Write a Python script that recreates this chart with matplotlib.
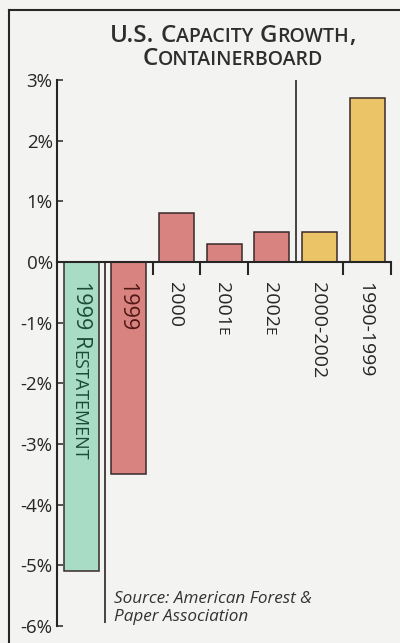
import matplotlib
matplotlib.use("Agg")
import matplotlib.pyplot as plt
from matplotlib.lines import Line2D
from matplotlib.transforms import IdentityTransform

# ---- data -------------------------------------------------------------
categories = ["1999 Restatement", "1999", "2000", "2001E", "2002E",
              "2000-2002", "1990-1999"]
growth = [-5.1, -3.5, 0.8, 0.3, 0.5, 0.5, 2.7]          # percent
bar_colors = ["#a9dcc4", "#d8837f", "#d8837f", "#d8837f", "#d8837f",
              "#eac466", "#eac466"]
inside_label = [True, True, False, False, False, False, False]
inside_label_colors = ["#1d4a38", "#4f1717"]
y_ticks = [-6, -5, -4, -3, -2, -1, 0, 1, 2, 3]
y_tick_labels = ["-6%", "-5%", "-4%", "-3%", "-2%", "-1%", "0%", "1%", "2%", "3%"]
x_tick_marks = [1.5, 2.5, 3.5, 5.5, 6.5]
title_lines = ["U.S. Capacity Growth,", "Containerboard"]
source_lines = ["Source: American Forest &", "Paper Association"]

W, H, DPI = 400, 643, 100
BG = "#f3f3f1"
INK = "#262626"
FONT = ["Open Sans", "Lato", "DejaVu Sans"]

plt.rcParams["font.family"] = FONT

fig = plt.figure(figsize=(W / DPI, H / DPI), dpi=DPI, facecolor=BG)
ax = fig.add_axes([57.5 / W, 17 / H, 333.5 / W, 546 / H])
ax.set_facecolor(BG)

x = list(range(len(categories)))
ax.bar(x, growth, width=0.735, color=bar_colors, edgecolor="#3a2a2a",
       linewidth=1.1, zorder=2)

ax.set_xlim(-0.5, 6.5)
ax.set_ylim(-6, 3)

# spines
for s in ("top", "right"):
    ax.spines[s].set_visible(False)
ax.spines["left"].set_linewidth(1.5)
ax.spines["left"].set_color(INK)
ax.spines["bottom"].set_position(("data", 0))
ax.spines["bottom"].set_linewidth(1.5)
ax.spines["bottom"].set_color(INK)
ax.spines["bottom"].set_zorder(3)

ax.set_yticks(y_ticks)
ax.set_yticklabels(y_tick_labels)
ax.tick_params(axis="y", direction="in", length=4.5, width=1.1, color=INK,
               pad=3.5, labelsize=13.5, labelcolor=INK)
ax.set_xticks(x_tick_marks)
ax.set_xticklabels([])
ax.tick_params(axis="x", direction="out", length=9, width=1.5, color=INK)

# separators between groups
ax.vlines(0.5, -5.95, 0, color=INK, linewidth=1.2, zorder=3)
ax.vlines(4.5, 0, 3, color=INK, linewidth=1.2, zorder=3)

# ---- small-caps text helpers -------------------------------------------
renderer = fig.canvas.get_renderer()


def seg_width(s, size, **kw):
    a = fig.text(0, 0, "|" + s + "|", fontsize=size, **kw)
    b = fig.text(0, 0, "||", fontsize=size, **kw)
    w = a.get_window_extent(renderer).width - b.get_window_extent(renderer).width
    a.remove()
    b.remove()
    return w


def caps_runs(text, big, small):
    runs = []
    prev = ""
    for ch in text:
        if ch == " ":
            key, c = ("space", big), " "
        elif ch.islower() or (ch.isupper() and prev.isalnum()):
            key, c = ("text", small), ch.upper()
        else:
            key, c = ("text", big), ch
        if runs and runs[-1][0] == key and key[0] == "text":
            runs[-1][1] += c
        else:
            runs.append([key, c])
        prev = ch
    return [(k[0], s, k[1]) for k, s in runs]


def draw_caps(text, cx, y, big, small, rotated=False, **kw):
    runs = caps_runs(text, big, small)
    widths = [seg_width(s, size, **kw) for _, s, size in runs]
    if rotated:
        cap = big * DPI / 72 * 0.72
        bx = cx - cap / 2
        cur = y
        for (kind, s, size), w in zip(runs, widths):
            if kind == "text":
                fig.text(bx, cur, s, fontsize=size, rotation=-90,
                         rotation_mode="anchor", ha="left", va="baseline",
                         transform=IdentityTransform(), **kw)
            cur -= w
    else:
        cur = cx - sum(widths) / 2
        for (kind, s, size), w in zip(runs, widths):
            if kind == "text":
                fig.text(cur, y, s, fontsize=size, ha="left", va="baseline",
                         transform=IdentityTransform(), **kw)
            cur += w


# title
title_baselines = [H - 42, H - 65]
for line, yb in zip(title_lines, title_baselines):
    draw_caps(line, 233, yb, 17.5, 14, color="#2e2e2e", fontweight="semibold",
              family=FONT)

# category labels
zero_y = ax.transData.transform((0, 0))[1]
for i, (cat, inside) in enumerate(zip(categories, inside_label)):
    cx = ax.transData.transform((i, 0))[0]
    if inside:
        draw_caps(cat, cx, zero_y - 20, 15.5, 13, rotated=True,
                  color=inside_label_colors[i], family=FONT)
    else:
        draw_caps(cat, cx, zero_y - 20, 14, 11, rotated=True,
                  color=INK, family=FONT)

# source note
for line, yb in zip(source_lines, [40, 22]):
    fig.text(114, yb, line, fontsize=12.3, style="italic", color="#333333",
             ha="left", va="baseline", transform=IdentityTransform(),
             family=FONT)

# outer frame (left and top edges)
fig.add_artist(Line2D([9, 9], [0, H - 10], color=INK, linewidth=1.5,
                      transform=IdentityTransform()))
fig.add_artist(Line2D([9, W], [H - 10, H - 10], color=INK, linewidth=1.5,
                      transform=IdentityTransform()))

fig.savefig("out.png", dpi=DPI, facecolor=BG)
